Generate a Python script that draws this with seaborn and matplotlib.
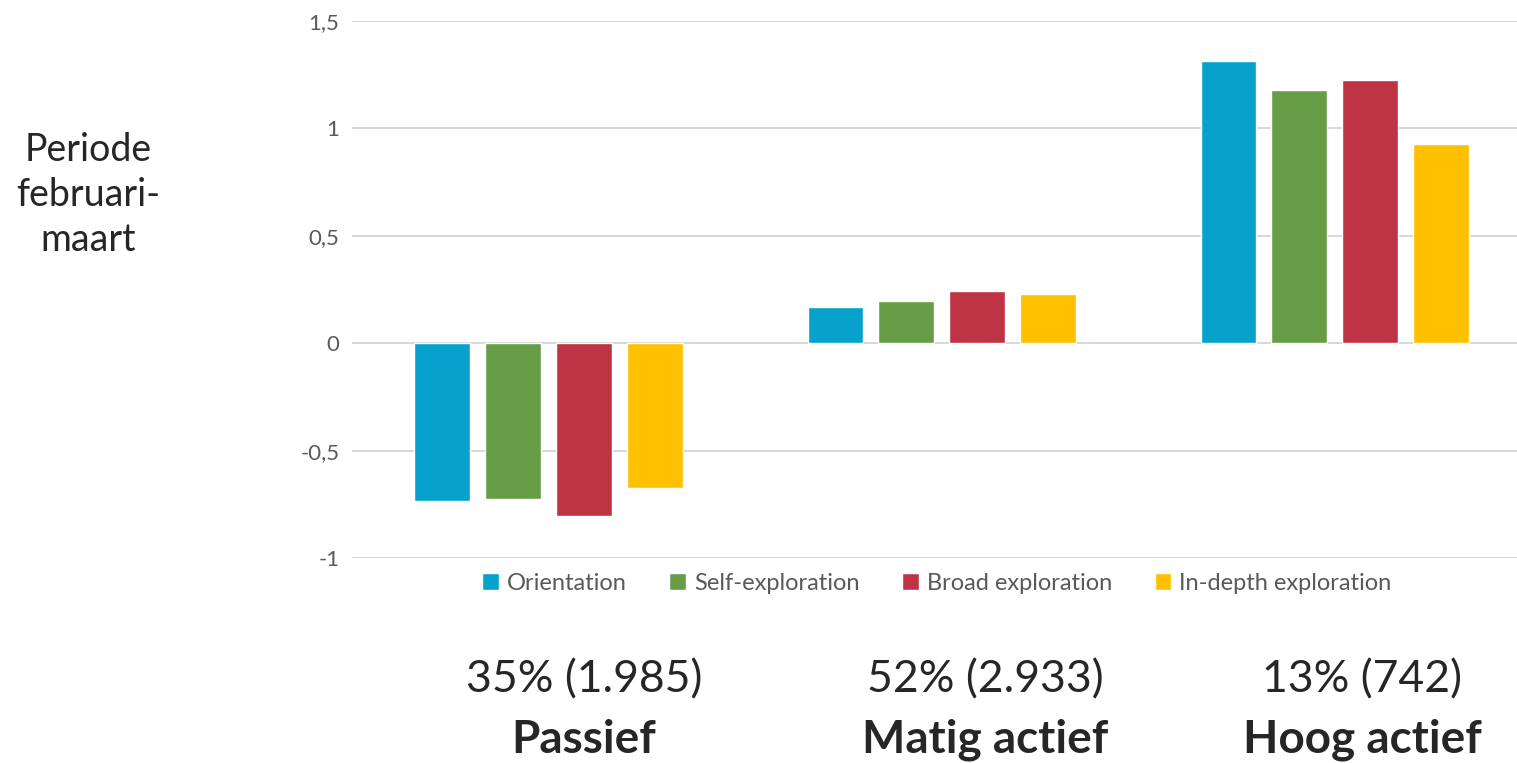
import pandas as pd
import numpy as np
import matplotlib.pyplot as plt
import seaborn as sns

# Data
groups = ['Passief', 'Matig actief', 'Hoog actief']
group_counts = ['35% (1.985)', '52% (2.933)', '13% (742)']
series = ['Orientation', 'Self-exploration', 'Broad exploration', 'In-depth exploration']
orientation = [-0.735, 0.167, 1.312]
self_exploration = [-0.725, 0.195, 1.177]
broad_exploration = [-0.805, 0.242, 1.223]
in_depth_exploration = [-0.675, 0.228, 0.926]
colors = ['#06A2CB', '#689D47', '#BE3444', '#FFC000']

# Long format table for seaborn
df = pd.DataFrame({
    'group': groups * 4,
    'series': np.repeat(series, 3),
    'value': orientation + self_exploration + broad_exploration + in_depth_exploration,
})

sns.set_style('white')
plt.rcParams['font.family'] = ['Lato', 'DejaVu Sans']

fig = plt.figure(figsize=(15.17, 7.63), dpi=100)
ax = fig.add_axes([352 / 1517, 1 - 558 / 763, 1 - 352 / 1517, (558 - 21) / 763])

sns.barplot(data=df, x='group', y='value', hue='series', order=groups,
            hue_order=series, palette=colors, width=0.72, gap=0.21,
            saturation=1, ax=ax, zorder=3)

# Axis styling
ax.set_ylim(-1, 1.5)
ax.set_xlim(-0.5, 2.464)
ax.set_yticks([-1, -0.5, 0, 0.5, 1, 1.5])
ax.set_yticklabels(['-1', '-0,5', '0', '0,5', '1', '1,5'], color='#595959', fontsize=16)
ax.tick_params(axis='y', length=0, pad=9)
ax.set_xticks([])
ax.set_xlabel('')
ax.set_ylabel('')
ax.grid(axis='y', color='#D9D9D9', linewidth=1.5, zorder=0)
for s in ax.spines.values():
    s.set_visible(False)

# Legend below the plot
ax.legend(loc='upper center', bbox_to_anchor=(0.502, 0.012), ncol=4, frameon=False,
          fontsize=17, handlelength=0.7, handleheight=0.7, handletextpad=0.35,
          columnspacing=1.8, labelcolor='#595959')

# Left side label
fig.text(88 / 1517, 1 - 195 / 763, 'Periode\nfebruari-\nmaart', ha='center', va='center',
         fontsize=27, linespacing=1.32)

# Group labels below
label_x = [584, 985, 1362]
for x, cnt, name in zip(label_x, group_counts, groups):
    fig.text(x / 1517, 1 - 680 / 763, cnt, ha='center', va='center', fontsize=32)
    fig.text(x / 1517, 1 - 740 / 763, name, ha='center', va='center', fontsize=33,
             fontweight='bold')

plt.savefig('out.png', dpi=100)
plt.close()
